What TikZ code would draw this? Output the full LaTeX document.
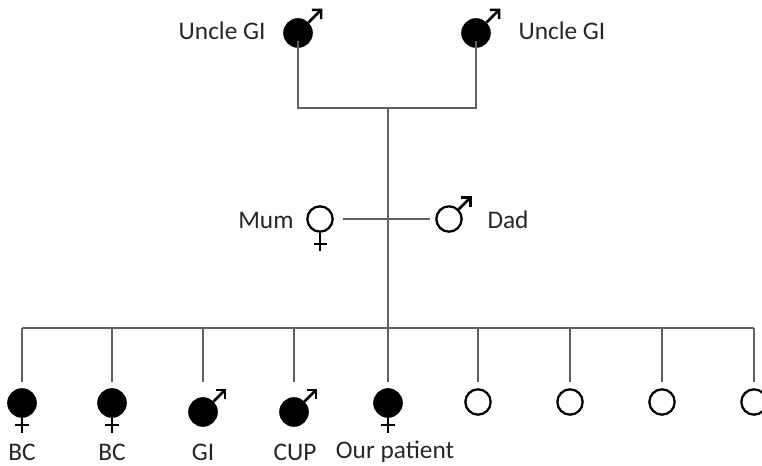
\documentclass[tikz,border=0pt]{standalone}
\usepackage{fontspec}
\setmainfont{Carlito}
\usetikzlibrary{arrows.meta}

\tikzset{every picture/.style={line width=0.75pt}}
\tikzset{
  person/.style={circle, draw=black, line width=1.7pt, minimum size=19pt, inner sep=0pt},
  affected/.style={person, fill=black, minimum size=20.5pt},
  link/.style={draw=black!62, line width=1.5pt},
  symline/.style={draw=black, line width=1.9pt},
  maleline/.style={symline, -{Straight Barb[length=5pt,width=10pt,line width=1.9pt]}},
  lbl/.style={font=\fontsize{19}{22}\selectfont, text=black!85, inner sep=0.75pt}
}

\begin{document}
\begin{tikzpicture}[x=0.75pt,y=0.75pt,yscale=-1,xscale=1]
\useasboundingbox (0,0) rectangle (762,466);

% Uncles
\node[affected] (u1) at (298,33) {};
\draw[maleline] (u1.north east) -- ++(14,-14);
\node[affected] (u2) at (476,33) {};
\draw[maleline] (u2.north east) -- ++(14,-14);
\node[lbl, anchor=east] (u1l) at (267,31) {Uncle GI};
\node[lbl, anchor=west] (u2l) at (517,31) {Uncle GI};
\coordinate (top) at (388,108);
\draw[link] ([yshift=-5pt]u1.south) |- (top) -| ([yshift=-5pt]u2.south);

% Parents
\node[person] (mum) at (320,219) {};
\draw[symline] (mum.south) -- ++(0,18) (mum.south) ++(-6.5,11) -- ++(13,0);
\node[person] (dad) at (449,219) {};
\draw[maleline] (dad.north east) -- ++(13,-13);
\node[lbl, anchor=east] (muml) at (295,220) {Mum};
\node[lbl, anchor=west] (dadl) at (486,220) {Dad};
\draw[link, shorten <=7pt, shorten >=4pt] (mum) -- (dad);

% Sibship line
\coordinate (bar) at (388,328);
\coordinate (drop) at (0,382);
\draw[link] (top) -- (bar);

% Children
\node[affected] (c1) at (22,403) {};
\draw[symline] (c1.south) -- ++(0,15) (c1.south) ++(-7,7) -- ++(14,0);
\node[affected] (c2) at (112,403) {};
\draw[symline] (c2.south) -- ++(0,15) (c2.south) ++(-7,7) -- ++(14,0);
\node[affected] (c3) at (203,412) {};
\draw[maleline] (c3.north east) -- ++(13,-13);
\node[affected] (c4) at (294,412) {};
\draw[maleline] (c4.north east) -- ++(13,-13);
\node[affected] (c5) at (388,403) {};
\draw[symline] (c5.south) -- ++(0,15) (c5.south) ++(-7,7) -- ++(14,0);
\node[person] (c6) at (478,402) {};
\node[person] (c7) at (570,402) {};
\node[person] (c8) at (662,402) {};
\node[person] (c9) at (754,402) {};

\draw[link] (bar -| c1) -- (bar -| c9);
\draw[link] (bar -| c1) -- (drop -| c1);
\draw[link] (bar -| c2) -- (drop -| c2);
\draw[link] (bar -| c3) -- (drop -| c3);
\draw[link] (bar -| c4) -- (drop -| c4);
\draw[link] (bar -| c5) -- (drop -| c5);
\draw[link] (bar -| c6) -- (drop -| c6);
\draw[link] (bar -| c7) -- (drop -| c7);
\draw[link] (bar -| c8) -- (drop -| c8);
\draw[link] (bar -| c9) -- (drop -| c9);

% Labels
\node[lbl] (c1l) at (22,452) {BC};
\node[lbl] (c2l) at (112,452) {BC};
\node[lbl] (c3l) at (203,452) {GI};
\node[lbl] (c4l) at (295,452) {CUP};
\node[lbl] (c5l) at (395,452) {Our patient};

\end{tikzpicture}
\end{document}
